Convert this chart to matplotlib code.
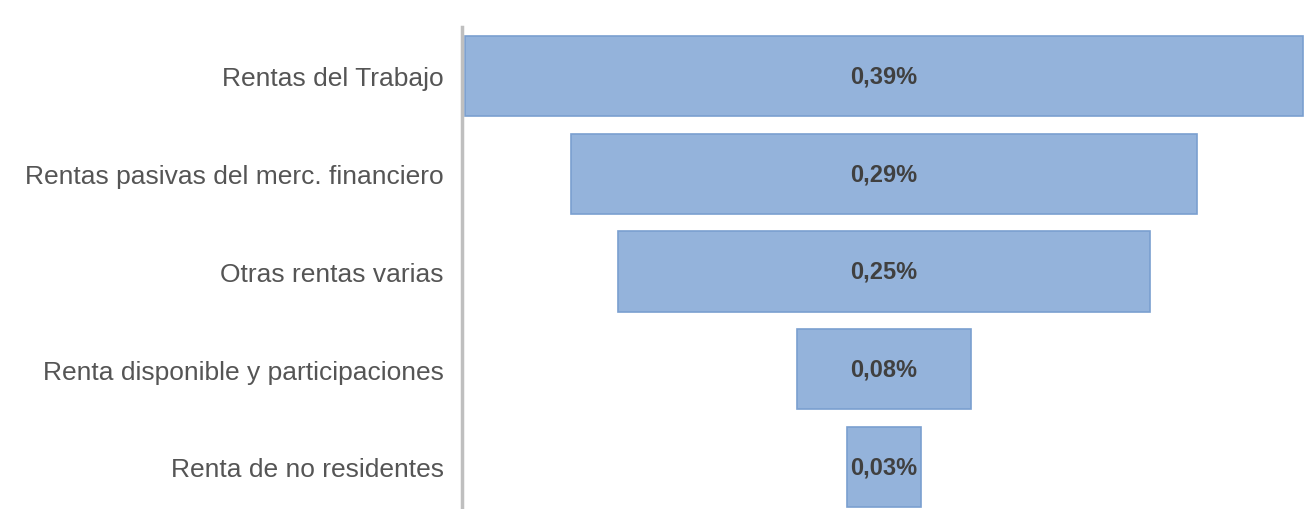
import matplotlib.pyplot as plt
import numpy as np

plt.rcParams['font.family'] = ['Liberation Sans', 'DejaVu Sans']

categorias = ['Rentas del Trabajo',
              'Rentas pasivas del merc. financiero',
              'Otras rentas varias',
              'Renta disponible y participaciones',
              'Renta de no residentes']
valores = [0.39, 0.291, 0.248, 0.081, 0.034]
etiquetas = ['0,39%', '0,29%', '0,25%', '0,08%', '0,03%']

fig = plt.figure(figsize=(13.11, 5.10), dpi=100)
ax = fig.add_axes([462 / 1311, 0, 1 - 462 / 1311, (510 - 28) / 510])

y = np.arange(len(categorias))
v = np.array(valores)
izq = (v.max() - v) / 2  # centrado tipo embudo

ax.barh(y, v, left=izq, height=0.82, color='#94B3DB', edgecolor='#7A9FD0', linewidth=1.2)

for yi, xi, vi, txt in zip(y, izq, v, etiquetas):
    ax.text(xi + vi / 2, yi, txt, ha='center', va='center',
            fontsize=17, fontweight='bold', color='#404040')

ax.set_yticks(y)
ax.set_yticklabels(categorias, fontsize=19, color='#555555')
ax.tick_params(axis='y', length=0, pad=13)
ax.set_xticks([])
ax.set_xlim(-0.0014, 0.3937)
ax.set_ylim(4.43, -0.50)

for s in ['top', 'right', 'bottom']:
    ax.spines[s].set_visible(False)
ax.spines['left'].set_color('#BFBFBF')
ax.spines['left'].set_linewidth(2.5)

fig.savefig('out.png', dpi=100)
